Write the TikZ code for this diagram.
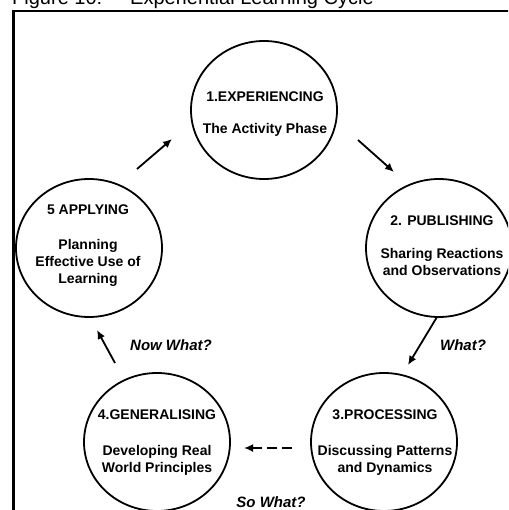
\documentclass[tikz,border=0pt]{standalone}
\usepackage{fontspec}
\setmainfont{Liberation Sans}
\usetikzlibrary{arrows.meta,shapes.geometric}
\begin{document}
\begin{tikzpicture}[x=1pt,y=-1pt,
  phase/.style={ellipse, draw, line width=1.8pt, minimum width=146pt, minimum height=138pt, inner sep=0pt},
  txt/.style={align=center, inner sep=0pt, font=\fontsize{14}{17}\selectfont\bfseries},
  flow/.style={line width=1.8pt, -{Latex[length=9pt,width=8pt]}},
  ask/.style={inner sep=0pt, font=\fontsize{15}{17}\selectfont\bfseries\itshape}]
\useasboundingbox (0,0) rectangle (508,510);
\clip (0,0) rectangle (508,510);
% title and frame
\node[anchor=base west, inner sep=0pt, font=\fontsize{20}{22}\selectfont] (title) at (12,4.5) {Figure 10:\hspace{28pt}Experiential Learning Cycle};
\draw[line width=2.5pt] (13.5,600) |- (600,11);
% phases
\node[phase] (p1) at (264,110) {};
\node[phase] (p2) at (439,248) {};
\node[phase] (p3) at (384,442) {};
\node[phase] (p4) at (157,442) {};
\node[phase] (p5) at (89,248) {};
\node[txt] (t1) at (265,114) {1.EXPERIENCING\\[15pt]The Activity Phase};
\node[txt] (t2) at (442,246) {2. PUBLISHING\\[16pt]Sharing Reactions\\and Observations};
\node[txt] (t3) at (385,443) {3.PROCESSING\\[19pt]Discussing Patterns\\and Dynamics};
\node[txt] (t4) at (157,443) {4.GENERALISING\\[19pt]Developing Real\\World Principles};
\node[txt] (t5) at (88,246) {5 APPLYING\\[18pt]Planning\\Effective Use of\\Learning};
% arrow end points
\coordinate (a51s) at (137,169);
\coordinate (a51e) at (172,139);
\coordinate (a12s) at (358,140);
\coordinate (a12e) at (394,172);
\coordinate (a23s) at (437,317);
\coordinate (a23e) at (408,365);
\coordinate (a34s) at (292,448);
\coordinate (a34e) at (244,448);
\coordinate (a45s) at (115,363);
\coordinate (a45e) at (97,330);
\draw[flow] (a51s) -- (a51e);
\draw[flow] (a12s) -- (a12e);
\draw[flow] (a23s) -- (a23e);
\draw[flow, dash pattern=on 10pt off 5pt] (a34s) -- (a34e);
\draw[flow] (a45s) -- (a45e);
% questions
\node[ask] (q1) at (463,345) {What?};
\node[ask] (q2) at (271,502) {So What?};
\node[ask] (q3) at (171,345) {Now What?};
\end{tikzpicture}
\end{document}
